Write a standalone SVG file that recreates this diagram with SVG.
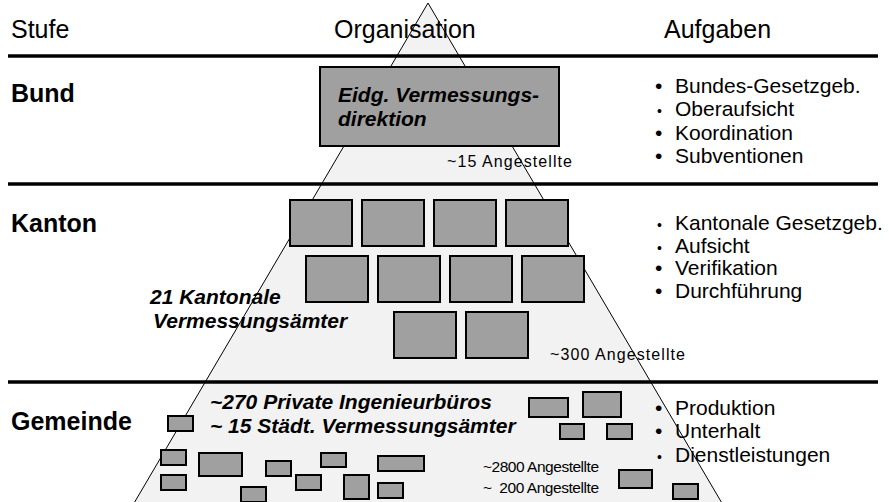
<svg xmlns="http://www.w3.org/2000/svg" width="889" height="502" viewBox="0 0 889 502">
<style>
text { font-family: "Liberation Sans", Arial, sans-serif; fill: #000; }
.hdr { font-size: 25px; }
.lvl { font-size: 25px; font-weight: bold; }
.task { font-size: 21px; }
.bul { font-size: 21px; }
.sb { font-size: 14px; }
.bi { font-size: 21px; font-weight: bold; font-style: italic; }
.cnt { font-size: 16px; }
.cnt2 { font-size: 15.5px; }
.box { fill: #a0a0a0; stroke: #000; stroke-width: 2; }
.sep { stroke: #000; stroke-width: 3.5; }
</style>
<rect width="889" height="502" fill="#fff"/>
<g id="pyramid">
<polygon points="428,3 130,510 726,510" fill="#f2f2f2" stroke="#000" stroke-width="1"/>
</g>
<g id="separators">
<line class="sep" x1="8" y1="56" x2="878" y2="56"/>
<line class="sep" x1="8" y1="184" x2="878" y2="184"/>
<line class="sep" x1="8" y1="382" x2="878" y2="382"/>
</g>
<g id="header">
<text class="hdr" x="11" y="38">Stufe</text>
<text class="hdr" x="334" y="38">Organisation</text>
<text class="hdr" x="664" y="38">Aufgaben</text>
</g>
<g id="bund">
<text class="lvl" x="11" y="102">Bund</text>
<rect class="box" x="320" y="67" width="239" height="79"/>
<text class="bi" x="338" y="102">Eidg. Vermessungs-</text>
<text class="bi" x="338" y="126">direktion</text>
<text class="cnt" x="447" y="167" textLength="125">~15 Angestellte</text>
<text class="bul" x="655" y="93">•</text><text class="task" x="675" y="93">Bundes-Gesetzgeb.</text>
<text class="sb" x="657" y="116">•</text><text class="task" x="675" y="116">Oberaufsicht</text>
<text class="bul" x="655" y="140">•</text><text class="task" x="675" y="140">Koordination</text>
<text class="bul" x="655" y="163">•</text><text class="task" x="675" y="163">Subventionen</text>
</g>
<g id="kanton">
<text class="lvl" x="11" y="232">Kanton</text>
<rect class="box" x="290" y="200" width="62" height="46"/>
<rect class="box" x="362" y="200" width="62" height="46"/>
<rect class="box" x="434" y="200" width="62" height="46"/>
<rect class="box" x="506" y="200" width="62" height="46"/>
<rect class="box" x="306" y="256" width="62" height="46"/>
<rect class="box" x="378" y="256" width="62" height="46"/>
<rect class="box" x="450" y="256" width="62" height="46"/>
<rect class="box" x="522" y="256" width="62" height="46"/>
<rect class="box" x="394" y="312" width="62" height="46"/>
<rect class="box" x="466" y="312" width="62" height="46"/>
<text class="bi" x="150" y="304">21 Kantonale</text>
<text class="bi" x="153" y="328">Vermessungsämter</text>
<text class="cnt" x="550" y="360" textLength="135">~300 Angestellte</text>
<text class="sb" x="657" y="230">•</text><text class="task" x="675" y="230">Kantonale Gesetzgeb.</text>
<text class="sb" x="657" y="253">•</text><text class="task" x="675" y="253">Aufsicht</text>
<text class="bul" x="655" y="275">•</text><text class="task" x="675" y="275">Verifikation</text>
<text class="bul" x="655" y="298">•</text><text class="task" x="675" y="298">Durchführung</text>
</g>
<g id="gemeinde">
<text class="lvl" x="11" y="430">Gemeinde</text>
<rect class="box" x="168" y="416" width="25" height="15"/>
<rect class="box" x="161" y="450" width="25" height="15"/>
<rect class="box" x="199" y="453" width="43" height="23"/>
<rect class="box" x="266" y="461" width="25" height="15"/>
<rect class="box" x="321" y="453" width="25" height="14"/>
<rect class="box" x="378" y="456" width="46" height="15"/>
<rect class="box" x="161" y="475" width="25" height="15"/>
<rect class="box" x="241" y="487" width="25" height="15"/>
<rect class="box" x="296" y="475" width="25" height="15"/>
<rect class="box" x="344" y="475" width="25" height="24"/>
<rect class="box" x="378" y="483" width="25" height="15"/>
<rect class="box" x="529" y="398" width="39" height="19"/>
<rect class="box" x="583" y="392" width="38" height="25"/>
<rect class="box" x="560" y="424" width="24" height="15"/>
<rect class="box" x="607" y="424" width="25" height="15"/>
<rect class="box" x="619" y="470" width="33" height="18"/>
<rect class="box" x="673" y="484" width="25" height="15"/>
<text class="bi" x="210" y="409">~270 Private Ingenieurbüros</text>
<text class="bi" x="210" y="433">~ 15 Städt. Vermessungsämter</text>
<text class="cnt2" x="483" y="472" textLength="116">~2800 Angestellte</text>
<text class="cnt2" x="483" y="493" textLength="116" xml:space="preserve">~  200 Angestellte</text>
<text class="bul" x="655" y="415">•</text><text class="task" x="675" y="415">Produktion</text>
<text class="bul" x="655" y="438">•</text><text class="task" x="675" y="438">Unterhalt</text>
<text class="sb" x="657" y="462">•</text><text class="task" x="675" y="462">Dienstleistungen</text>
</g>
</svg>
